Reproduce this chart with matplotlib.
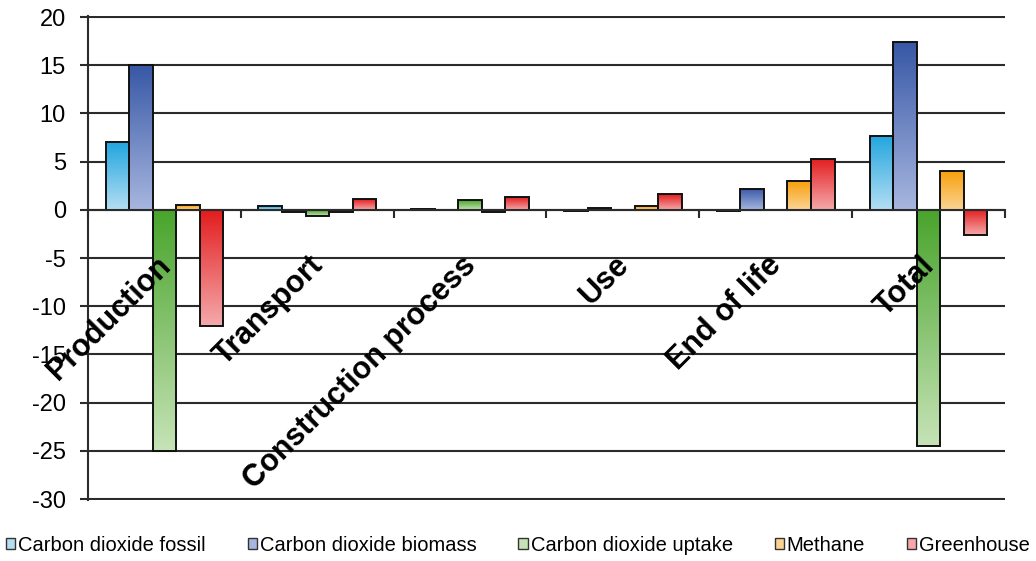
import numpy as np
import matplotlib.pyplot as plt
from matplotlib.colors import to_rgb
from matplotlib.patches import Patch

# data
categories = ["Production", "Transport", "Construction process", "Use", "End of life", "Total"]
series = ["Carbon dioxide fossil", "Carbon dioxide biomass", "Carbon dioxide uptake", "Methane", "Greenhouse"]
fossil = [7.0, 0.4, 0.1, -0.1, -0.1, 7.7]
biomass = [15.0, -0.2, 0.0, 0.2, 2.2, 17.4]
uptake = [-25.0, -0.6, 1.0, 0.0, 0.0, -24.5]
methane = [0.5, -0.2, -0.2, 0.4, 3.0, 4.0]
greenhouse = [-12.0, 1.1, 1.3, 1.6, 5.3, -2.6]
values = [fossil, biomass, uptake, methane, greenhouse]
yticks = [20, 15, 10, 5, 0, -5, -10, -15, -20, -25, -30]

# gradient colours: top (dark) -> bottom (light)
tops = ["#22a6df", "#3858a6", "#49a42c", "#f7a00c", "#e31d1f"]
bottoms = ["#b4def3", "#a7b6df", "#c6e3b6", "#fbd495", "#f5a9ab"]

plt.rcParams['font.family'] = ['Liberation Sans', 'DejaVu Sans']

fig = plt.figure(figsize=(10.36, 5.61), dpi=100)
ax = fig.add_axes([0.085, 0.109, 0.885, 0.862])

x = np.arange(len(categories))
w = 0.154

def gradient(c1, c2, n=64):
    a = np.array(to_rgb(c1))
    b = np.array(to_rgb(c2))
    t = np.linspace(0, 1, n)[:, None]
    return (a * (1 - t) + b * t)[:, None, :]

for k, vals in enumerate(values):
    bars = ax.bar(x + (k - 2) * w, vals, w, facecolor='none', edgecolor='#111111',
                  linewidth=1.4, zorder=3)
    grad = gradient(tops[k], bottoms[k])
    for p in bars:
        bx, by = p.get_x(), p.get_y()
        bw, bh = p.get_width(), p.get_height()
        if bh == 0:
            continue
        lo, hi = min(by, by + bh), max(by, by + bh)
        im = ax.imshow(grad, extent=[bx, bx + bw, lo, hi], aspect='auto',
                       zorder=2.5, interpolation='bilinear')
        im.set_clip_path(p)

ax.set_xlim(-0.5, len(categories) - 0.5)
ax.set_ylim(-30.08, 20.08)
ax.set_yticks(yticks)
ax.set_yticklabels([str(v) for v in yticks])
ax.yaxis.grid(True, color='#2b2b2b', linewidth=1.5)
ax.set_axisbelow(True)

for s in ['top', 'right']:
    ax.spines[s].set_visible(False)
ax.spines['left'].set_color('#2b2b2b')
ax.spines['left'].set_linewidth(1.5)
ax.spines['bottom'].set_position(('data', 0))
ax.spines['bottom'].set_color('#2b2b2b')
ax.spines['bottom'].set_linewidth(1.5)
ax.spines['bottom'].set_zorder(4)

ax.set_xticks(np.arange(len(categories) + 1) - 0.5)
ax.set_xticklabels([])
ax.tick_params(axis='x', direction='out', length=6, width=1.5, color='#2b2b2b')
ax.tick_params(axis='y', direction='out', length=6, width=1.5, color='#2b2b2b',
               labelsize=17, pad=10)

for i, name in enumerate(categories):
    ax.text(i + 0.01, -5.3, name, rotation=45, rotation_mode='anchor',
            ha='right', va='center', fontsize=22, fontweight='bold', zorder=5)

handles = [Patch(facecolor=bottoms[k], edgecolor='#333333', linewidth=1.0) for k in range(5)]
fig.legend(handles, series, loc='center', bbox_to_anchor=(0.5, 0.028), ncol=5,
           frameon=False, fontsize=14.5, handlelength=0.45, handleheight=0.45,
           handletextpad=0.15, columnspacing=2.08, borderaxespad=0, borderpad=0)

fig.savefig('out.png', dpi=100)
